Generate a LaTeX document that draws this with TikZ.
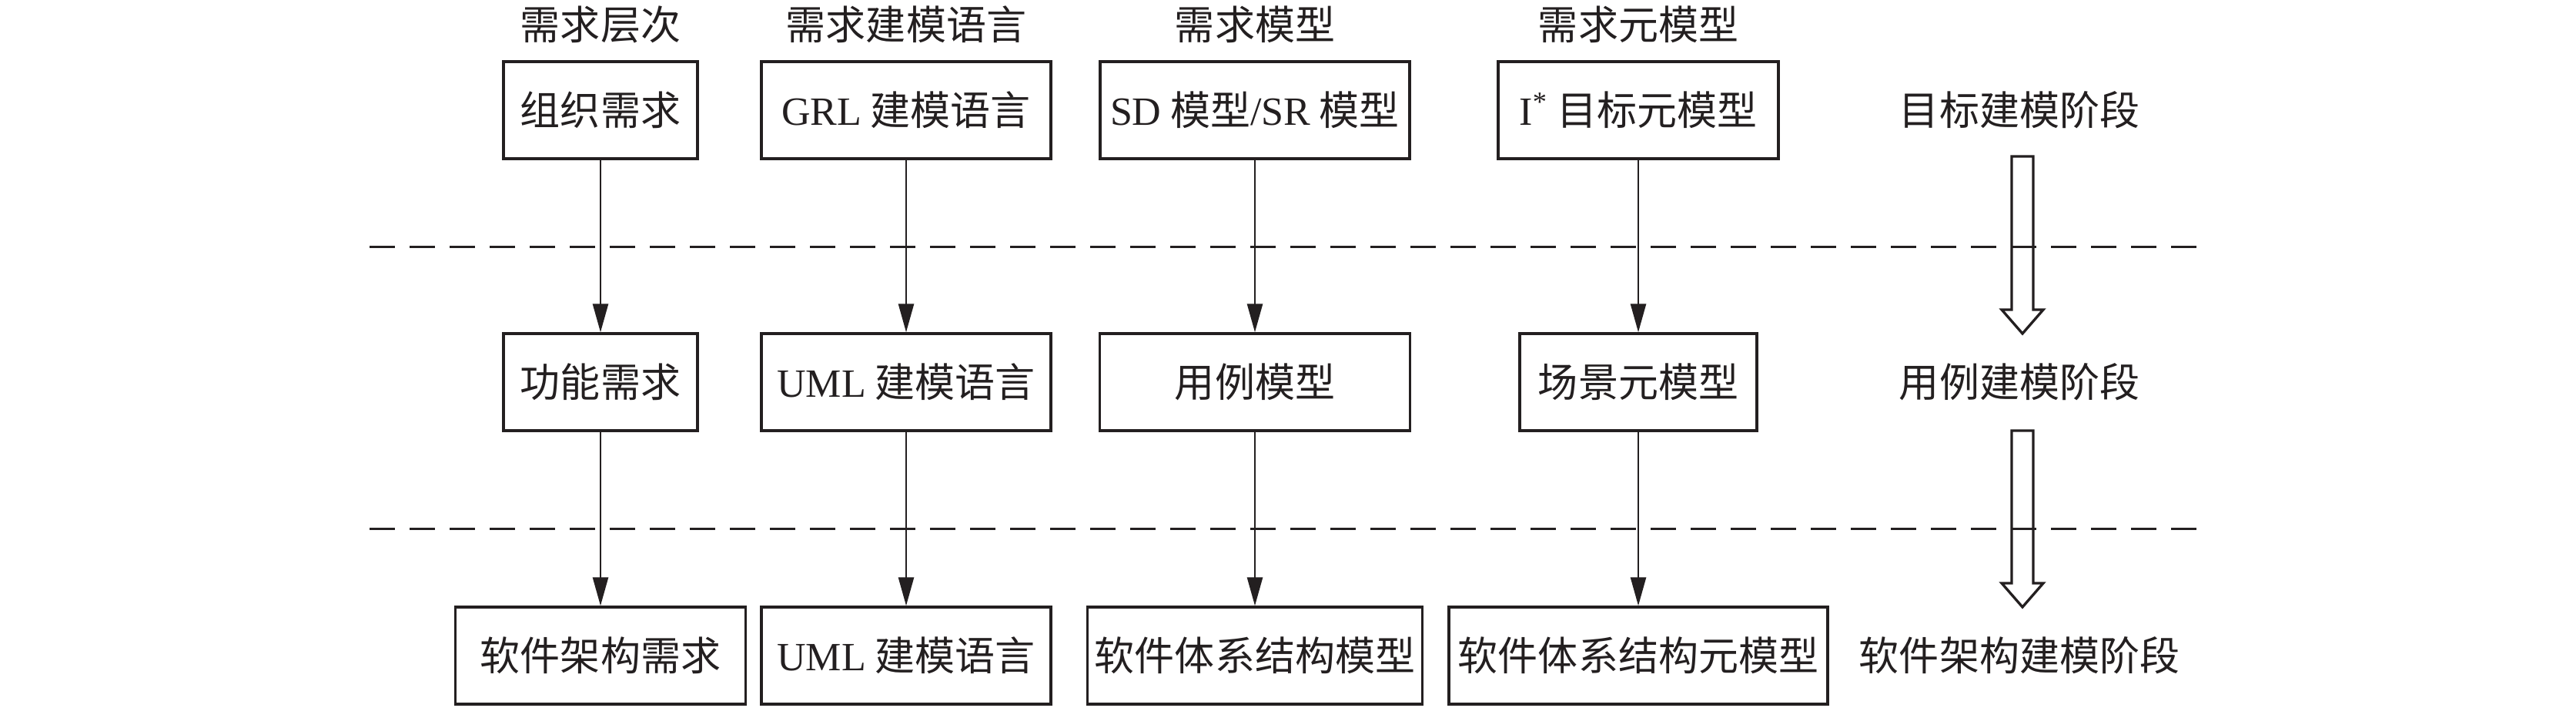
\documentclass[tikz,border=0pt]{standalone}
\usepackage{fontspec}
\setmainfont{Liberation Serif}
\newfontfamily\cjk{Noto Sans CJK SC}
\usetikzlibrary{arrows.meta}
\definecolor{ink}{RGB}{35,31,32}
\newcommand{\en}[1]{{\rmfamily #1}}

\begin{document}
\begin{tikzpicture}[
    every node/.style={font=\cjk\fontsize{14.8}{17}\selectfont, text=ink},
    box/.style={draw=ink, line width=0.95pt, minimum height=1.26cm, inner sep=0pt},
    flow/.style={draw=ink, line width=0.75pt, -{Triangle[length=3.7mm,width=2mm]}},
    sep/.style={draw=ink, line width=0.85pt, dash pattern=on 0.33cm off 0.19cm},
    hollow/.style={draw=ink, line width=0.95pt, line join=miter}
]
    \useasboundingbox (0,0) rectangle (33.46,9.19);

    % column heads
    \node (h1) at (7.80,8.87) {需求层次};
    \node (h2) at (11.77,8.87) {需求建模语言};
    \node (h3) at (16.30,8.87) {需求模型};
    \node (h4) at (21.28,8.87) {需求元模型};

    % goal modelling
    \node[box, minimum width=2.52cm] (t1) at (7.80,7.76) {组织需求};
    \node[box, minimum width=3.76cm] (t2) at (11.77,7.76) {\en{GRL} 建模语言};
    \node[box, minimum width=4.02cm] (t3) at (16.30,7.76) {\en{SD} 模型\en{/SR} 模型};
    \node[box, minimum width=3.64cm] (t4) at (21.28,7.76) {\en{I\textsuperscript{*}} 目标元模型};

    % use case modelling
    \node[box, minimum width=2.52cm] (m1) at (7.80,4.23) {功能需求};
    \node[box, minimum width=3.76cm] (m2) at (11.77,4.23) {\en{UML} 建模语言};
    \node[box, minimum width=4.03cm] (m3) at (16.30,4.23) {用例模型};
    \node[box, minimum width=3.08cm] (m4) at (21.28,4.23) {场景元模型};

    % architecture modelling
    \node[box, minimum width=3.77cm] (b1) at (7.80,0.68) {软件架构需求};
    \node[box, minimum width=3.76cm] (b2) at (11.77,0.68) {\en{UML} 建模语言};
    \node[box, minimum width=4.35cm] (b3) at (16.30,0.68) {软件体系结构模型};
    \node[box, minimum width=4.92cm] (b4) at (21.28,0.68) {软件体系结构元模型};

    % stages
    \node (s1) at (26.23,7.76) {目标建模阶段};
    \node (s2) at (26.23,4.23) {用例建模阶段};
    \node (s3) at (26.23,0.68) {软件架构建模阶段};

    \draw[sep] (4.80,5.98) -- (28.60,5.98);
    \draw[sep] (4.80,2.32) -- (28.60,2.32);

    \foreach \i in {1,...,4}{
        \draw[flow] (t\i) -- (m\i);
        \draw[flow] (m\i) -- (b\i);
    }

    \foreach \ya/\yb in {7.16/4.86, 3.60/1.31}
        \draw[hollow] (26.13,\ya) -- (26.41,\ya) -- (26.41,{\yb+0.31}) -- (26.54,{\yb+0.31})
            -- (26.27,\yb) -- (26.00,{\yb+0.31}) -- (26.13,{\yb+0.31}) -- cycle;
\end{tikzpicture}
\end{document}
